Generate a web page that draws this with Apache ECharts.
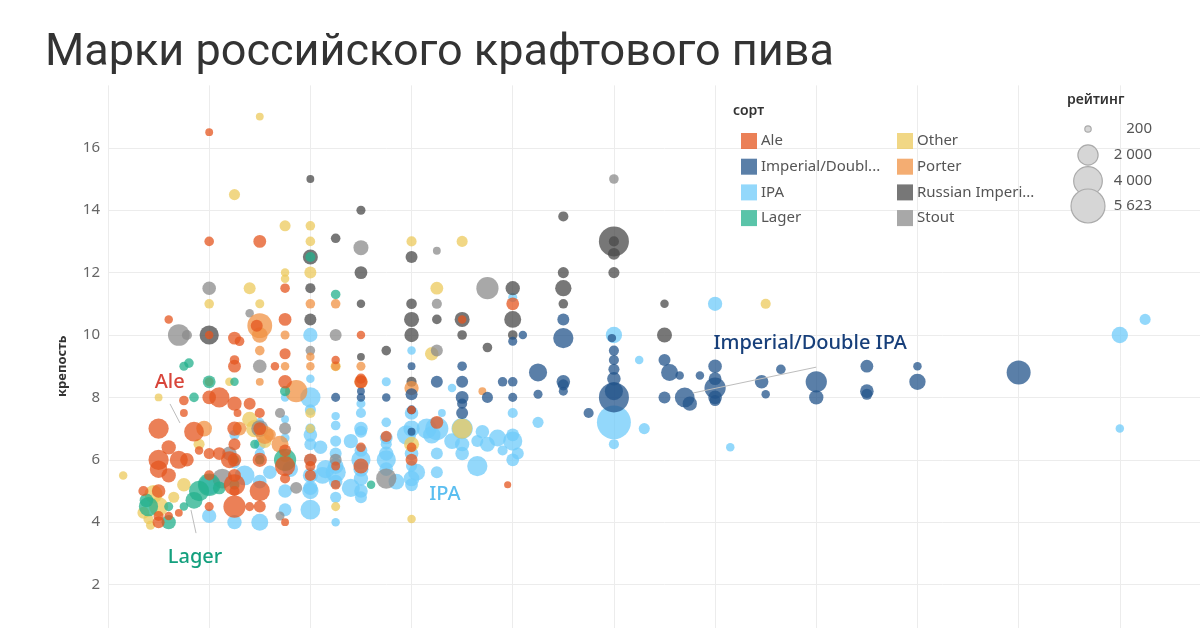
<!DOCTYPE html>
<html><head><meta charset="utf-8">
<script src="https://cdn.jsdelivr.net/npm/echarts@6/dist/echarts.min.js"></script>
<style>html,body{margin:0;padding:0;background:#fff;overflow:hidden}#c{width:1221px;height:647px}</style>
</head><body><div id="c"></div><script>
// ---- data: [ibu, abv (крепость), rating] ----
const titleText = 'Марки российского крафтового пива';
const yTicks = [2, 4, 6, 8, 10, 12, 14, 16];
const sortNames = ['Ale','Imperial/Double IPA','IPA','Lager','Other','Porter','Russian Imperial Stout','Stout'];
const sortShort = {'Imperial/Double IPA':'Imperial/Doubl...','Russian Imperial Stout':'Russian Imperi...'};
const sizeLegendValues = [200, 2000, 4000, 5623];
const sizeLegendLabels = ['200', '2 000', '4 000', '5 623'];

const aleData = [[10,16.5,300],[10,13,450],[15,13,800],[10,10,350],[6,10.5,350],[12.5,9.9,800],[13,9.8,450],[12.5,9.2,450],[12.5,9,800],[17.5,11.5,450],[17.5,10.5,800],[17.5,9.4,600],[16.5,9,350],[17.5,8.5,900],[14.7,10.3,700],[22.5,9.2,350],[25,10,350],[25,8.5,800],[40,11,800],[35,10.5,350],
[7.5,7.9,450],[11,8,2000],[10,8,900],[12.5,7.8,1000],[14,7.8,700],[7.5,7.5,300],[12.8,7.5,300],[15,7.5,500],[5,7,2000],[8.5,6.9,1900],[12.5,7,1000],[15,7,800],[5,6,2000],[5,5.7,1500],[6,6.4,1000],[7,6,1600],[7.8,6,900],[6,5.5,1000],[9,6.3,350],[10,6.2,600],[11,6.2,800],[12,6,1400],[12.5,6,900],[12.5,6.5,700],[15,6,1000],[17.5,6.3,700],[17.5,5.8,2000],[20,6,800],[3.5,5,500],[5,5,900],[10,5.5,500],[12.5,5.5,800],[12.5,5.2,2200],[12.5,5,500],[15,5,2000],[17.5,5.4,500],[20,5.5,600],[12.5,4.5,2400],[15,4.5,700],[14,4.5,400],[5,4.2,500],[5,4,700],[6,4.2,350],[7,4.3,300],[10,4.5,400],[17.5,4,300],
[32.5,7.2,800],[27.5,6.75,600],[30,7.6,350],[30,6.4,450],[30,6,700],[25,6.4,450],[25,5.8,1100],[22.5,5.2,450],[39.5,5.2,250],[20,5.8,500],[22.5,5.8,400],[25,8.6,500]];

const otherData = [[15,17,300],[12.5,14.5,600],[17.5,13.5,600],[20,13.5,450],[20,13,450],[20,12,700],[17.5,12,350],[17.5,11.8,350],[14,11.5,700],[10,11,450],[15,11,400],[5,8,300],[12,8.5,350],[30,13,500],[35,13,600],[32.5,11.5,800],[32,9.4,900],[65,11,500],[1.5,5.5,350],[5,4.5,1800],[4.5,4.9,1600],[4,4.1,500],[3.5,4.3,700],[6.5,4.8,600],[14.5,7,1500],[14,7.3,1100],[9,6.5,600],[15.5,6.6,900],[20,7.5,500],[20,7,400],[35,7,2000],[30,4.1,350],[7.5,5.2,900],[4.2,3.9,400],[22.5,4.5,400],[30,6.5,1100],[22.5,9,500],[17.5,6.1,600]];

const porterData = [[15,10.3,3000],[15,10,1200],[15,9.5,450],[17.5,10,400],[17.5,9,350],[20,9,350],[20,11,450],[22.5,9,400],[18.6,8.2,2400],[25,9,400],[25,8.5,900],[30,8.3,1000],[13,7,900],[9.5,7,1200],[15.5,6.8,1600],[17,6.5,1400],[16,6.8,700],[37,8.2,300],[20,9.3,350],[10,8.5,400],[15,8.5,300],[22.5,11,450]];

const risData = [[20,15,300],[25,14,400],[22.5,13.1,450],[20,12.5,1100],[25,12,800],[20,11.5,500],[25,11,350],[10,10,1800],[20,10.5,700],[27.5,9.5,450],[25,9.3,300],[30,12.5,700],[30,11,550],[30,10.5,1100],[30,10,1000],[32.5,10.5,450],[35,10.5,1100],[35,10,450],[37.5,9.6,450],[40,11.5,1000],[40,10.5,1400],[40,10,450],[45,13.8,500],[45,12,600],[45,11.5,1300],[45,11,450],[50,13,4400],[50,13,500],[50,12.6,700],[50,12,600],[55,11,350],[55,10,1100],[30,8.5,500]];

const stoutData = [[50,15,450],[10,11.5,900],[7,10,2300],[7.8,10,500],[15,9,900],[25,12.8,1100],[32.5,11,500],[37.5,11.5,2400],[32.5,12.7,300],[20,9.5,450],[22.5,10,700],[14,10.7,350],[27.5,5.4,2000],[32.5,9.5,700],[11.3,5.4,1900],[17,7.5,500],[17,4.2,400],[12,6.2,1000],[22.5,6,700],[17.5,7,700],[18.6,5.1,700],[15,7,1400]];

const lagerData = [[22.5,11.3,450],[20,12.5,500],[7.5,9,400],[8,9.1,450],[10,8.5,800],[12.5,8.5,350],[17.5,8.2,500],[8.5,8,450],[10,5.2,2500],[9,5,2000],[8.5,4.7,1400],[7.5,4.5,350],[6,4.5,400],[4,4.5,1800],[6,4,1000],[12.5,6,400],[17.5,6,2400],[15,6,450],[26,5.2,350],[14.5,6.5,400],[12.5,5.2,500],[3.8,4.7,900],[11,5.1,800]];

const ipaData = [[20,10,1000],[30,9.5,350],[27.5,8.5,400],[20,8,2000],[17.5,8,350],[40,11.2,400],[34,8.3,350],[50,10,1300],[60,11,1000],[52.5,9.2,350],[100,10,1300],[102.5,10.5,600],[100,7,350],[61.5,6.4,350],[50,7.2,5623],[53,7,600],[50,6.5,500],[22.5,7.4,350],[22.5,7.1,450],[22.5,6.6,600],[25,7.5,500],[25,6.9,700],[25,6.3,800],[27.5,7.2,450],[27.5,6.5,600],[27.5,6,1800],[31.5,7,2000],[32.5,7,2600],[36.5,5.8,2000],[30,5.4,1200],[21.2,5.5,1400],[22.5,5.6,2000],[20,4.4,1900],[20,5,1300],[22.5,4,350],[25,5,900],[25,5.7,1100],[35,7,2200],[35,6.2,900],[36.5,6.6,700],[37.5,6.5,1100],[40,6.6,1800],[40,6,800],[39,6.3,500],[40.5,6.2,700],[30.5,5.6,1400],[42.5,7.2,600],[40,7.5,500],[40,6.8,800],[33,7.5,300],[10,4.2,1000],[12.5,4,1000],[15,4,1400],[10,5.2,2000],[13.5,5.5,1900],[15,5.3,900],[20,6,700],[20,5.1,1000],[17.5,5,900],[17.5,4.4,800],[15,6.5,700],[22.5,4.8,600],[24,5.1,1600],[21.5,5.7,1600],[21,6.4,900],[25,7,900],[27.5,6.7,800],[27.5,6.2,1000],[25,6,1800],[22.5,5.8,1200],[30,7.5,900],[29.5,6.8,1800],[30,5.2,800],[30,5.8,600],[32.5,6.2,700],[32.5,5.6,700],[35,6.5,1000],[12.5,5.9,600],[17.5,6.7,400],[17.5,7.3,300],[20,6.5,700],[20,7,500],[15,6.2,500],[15,7.2,400],[20,8.6,350],
[20,7.6,600],[20,6.8,900],[20,5.5,1100],[22.5,6.2,700],[22.5,5.3,900],[25,4.8,700],[25,5.4,1000],[25,7.8,400],[27.5,5.7,900],[28.5,5.3,1200],[30,7,1300],[30,6.2,900],[32,6.8,1500],[34,6.6,1200],[37,6.9,900],[38.5,6.7,1400],[24,6.6,1000],[18,5.7,1200],[16,5.6,900],[12.5,6.8,500]];

const impData = [[45,10.5,700],[45,9.9,2000],[45,8.5,900],[45,8.2,400],[35,9,450],[35,8.5,700],[32.5,8.5,700],[42.5,8.8,1600],[40,8.5,450],[39,8.5,450],[41,10,350],[40,9.8,400],[30,8.1,700],[37.5,8,600],[42.5,8.1,400],[50,8,4400],[50,8.2,1600],[50,8.6,900],[50,8.9,600],[50,9.2,500],[50,9.5,500],[49.8,9.9,350],[47.5,7.5,500],[55,9.2,700],[55.5,8.8,1400],[56.5,8.7,350],[58.5,8.7,350],[55,8,700],[57,8,1900],[57.5,7.8,1000],[60,9,900],[60,8.6,800],[60,8.3,2200],[60,8,900],[60,7.9,600],[64.6,8.5,900],[65,8.1,350],[66.5,8.9,450],[70,8.5,2200],[70,8,1000],[75,9,800],[75,8.2,900],[75,8.1,600],[80,9,350],[80,8.5,1300],[90,8.8,2800],[35,8,800],[35,7.5,700],[35,7.8,500],[30,7.6,400],[25,8,350],[27.5,8,350],[40,8,400],[22.5,8,400],[30,6.9,300],[25,8.2,300],[45,8.4,600],[30,9,300]];

const seriesColors = {
  'Ale':'#E4561F','Imperial/Double IPA':'#23548B','IPA':'#6FCBFA','Lager':'#23B08C',
  'Other':'#ECC95C','Porter':'#F09143','Russian Imperial Stout':'#494949','Stout':'#8B8B8B'
};
const drawOrder = [
  ['IPA', ipaData], ['Other', otherData], ['Stout', stoutData], ['Russian Imperial Stout', risData],
  ['Porter', porterData], ['Lager', lagerData], ['Imperial/Double IPA', impData], ['Ale', aleData]
];
const sizeOf = v => 0.453 * Math.sqrt(v);

const chart = echarts.init(document.getElementById('c'), null, {renderer:'canvas'});
const FONT = 'Noto Sans';
const option = {
  animation: false,
  backgroundColor: '#fff',
  title: { text: titleText, left: 40, top: 26,
    textStyle: { fontFamily: 'Roboto', fontSize: 45, fontWeight: 'normal', color: '#333' } },
  grid: { left: 108, right: 0, top: 85.4, bottom: 0, containLabel: false },
  xAxis: { type: 'value', min: 0, max: 110, interval: 10,
    axisLine: {show:false}, axisTick: {show:false}, axisLabel: {show:false},
    splitLine: { lineStyle: { color: '#ECECEC', width: 1 } } },
  yAxis: { type: 'value', min: 0, max: 18, interval: 2,
    name: 'крепость', nameLocation: 'middle', nameGap: 39, nameRotate: 90,
    nameTextStyle: { fontFamily: FONT, fontSize: 13, fontWeight: 'bold', color: '#333' },
    axisLine: {show:false}, axisTick: {show:false},
    axisLabel: { fontFamily: FONT, fontSize: 15, color: '#666', margin: 8,
      formatter: v => yTicks.includes(v) ? String(v) : '' },
    splitLine: { lineStyle: { color: ['#ECECEC','#ECECEC','#ECECEC','#ECECEC','#ECECEC','#ECECEC','#ECECEC','#ECECEC','#ECECEC','rgba(0,0,0,0)'], width: 1 } } },
  legend: [
    { data: sortNames.slice(0,4), orient: 'vertical', left: 736, top: 128, icon: 'rect',
      itemWidth: 16, itemHeight: 16, itemGap: 9.7, selectedMode: false,
      formatter: n => sortShort[n] || n,
      textStyle: { fontFamily: FONT, fontSize: 15, color: '#555', padding: [0,0,0,-1] } },
    { data: sortNames.slice(4), orient: 'vertical', left: 892, top: 128, icon: 'rect',
      itemWidth: 16, itemHeight: 16, itemGap: 9.7, selectedMode: false,
      formatter: n => sortShort[n] || n,
      textStyle: { fontFamily: FONT, fontSize: 15, color: '#555', padding: [0,0,0,-1] } }
  ],
  series: drawOrder.map(([name, data]) => ({
    name, type: 'scatter', data,
    symbolSize: d => sizeOf(d[2]),
    itemStyle: { color: seriesColors[name], opacity: 0.75 },
    emphasis: { disabled: true }
  }))
};
chart.setOption(option);

// legends / annotations drawn as graphics
const g = [];
g.push({ type:'text', left: 733, top: 104, style:{ text:'сорт', font:'600 14px "Noto Sans"', fill:'#333' } });
g.push({ type:'text', left: 1067, top: 93, style:{ text:'рейтинг', font:'600 14px "Noto Sans"', fill:'#333' } });
const sizeRowsY = [129, 155, 181, 206];
sizeLegendValues.forEach((v, i) => {
  g.push({ type:'circle', shape:{ cx:1088, cy:sizeRowsY[i], r:sizeOf(v)/2 },
    style:{ fill:'#D6D6D6', stroke:'#ABABAB', lineWidth:1.2 } });
  g.push({ type:'text', x:1152, y:sizeRowsY[i], style:{ text:sizeLegendLabels[i], font:'15px "Noto Sans"', fill:'#555', align:'right', verticalAlign:'middle' } });
});
const annotations = [
  { text:'Ale', at:[6.1,8.5], color:'#D8453A', line:[[6.13,7.79],[7.11,7.18]] },
  { text:'Lager', at:[8.6,2.88], color:'#14A07E', line:[[8.2,4.39],[8.7,3.65]] },
  { text:'IPA', at:[33.3,4.9], color:'#5BBEF0', line:null },
  { text:'Imperial/Double IPA', at:[69.4,9.74], color:'#173F7A', line:[[57.8,8.14],[70,8.97]] }
];
annotations.forEach(a => {
  if (a.line) {
    const p1 = chart.convertToPixel({gridIndex:0}, a.line[0]);
    const p2 = chart.convertToPixel({gridIndex:0}, a.line[1]);
    g.push({ type:'line', shape:{ x1:p1[0], y1:p1[1], x2:p2[0], y2:p2[1] }, style:{ stroke:'#BDBDBD', lineWidth:1 }, z: 50 });
  }
  const p = chart.convertToPixel({gridIndex:0}, a.at);
  g.push({ type:'text', x:p[0], y:p[1], z: 60,
    style:{ text:a.text, font:'500 20px "Noto Sans"', fill:a.color, align:'center', verticalAlign:'middle' } });
});
chart.setOption({ graphic: g });
</script></body></html>
